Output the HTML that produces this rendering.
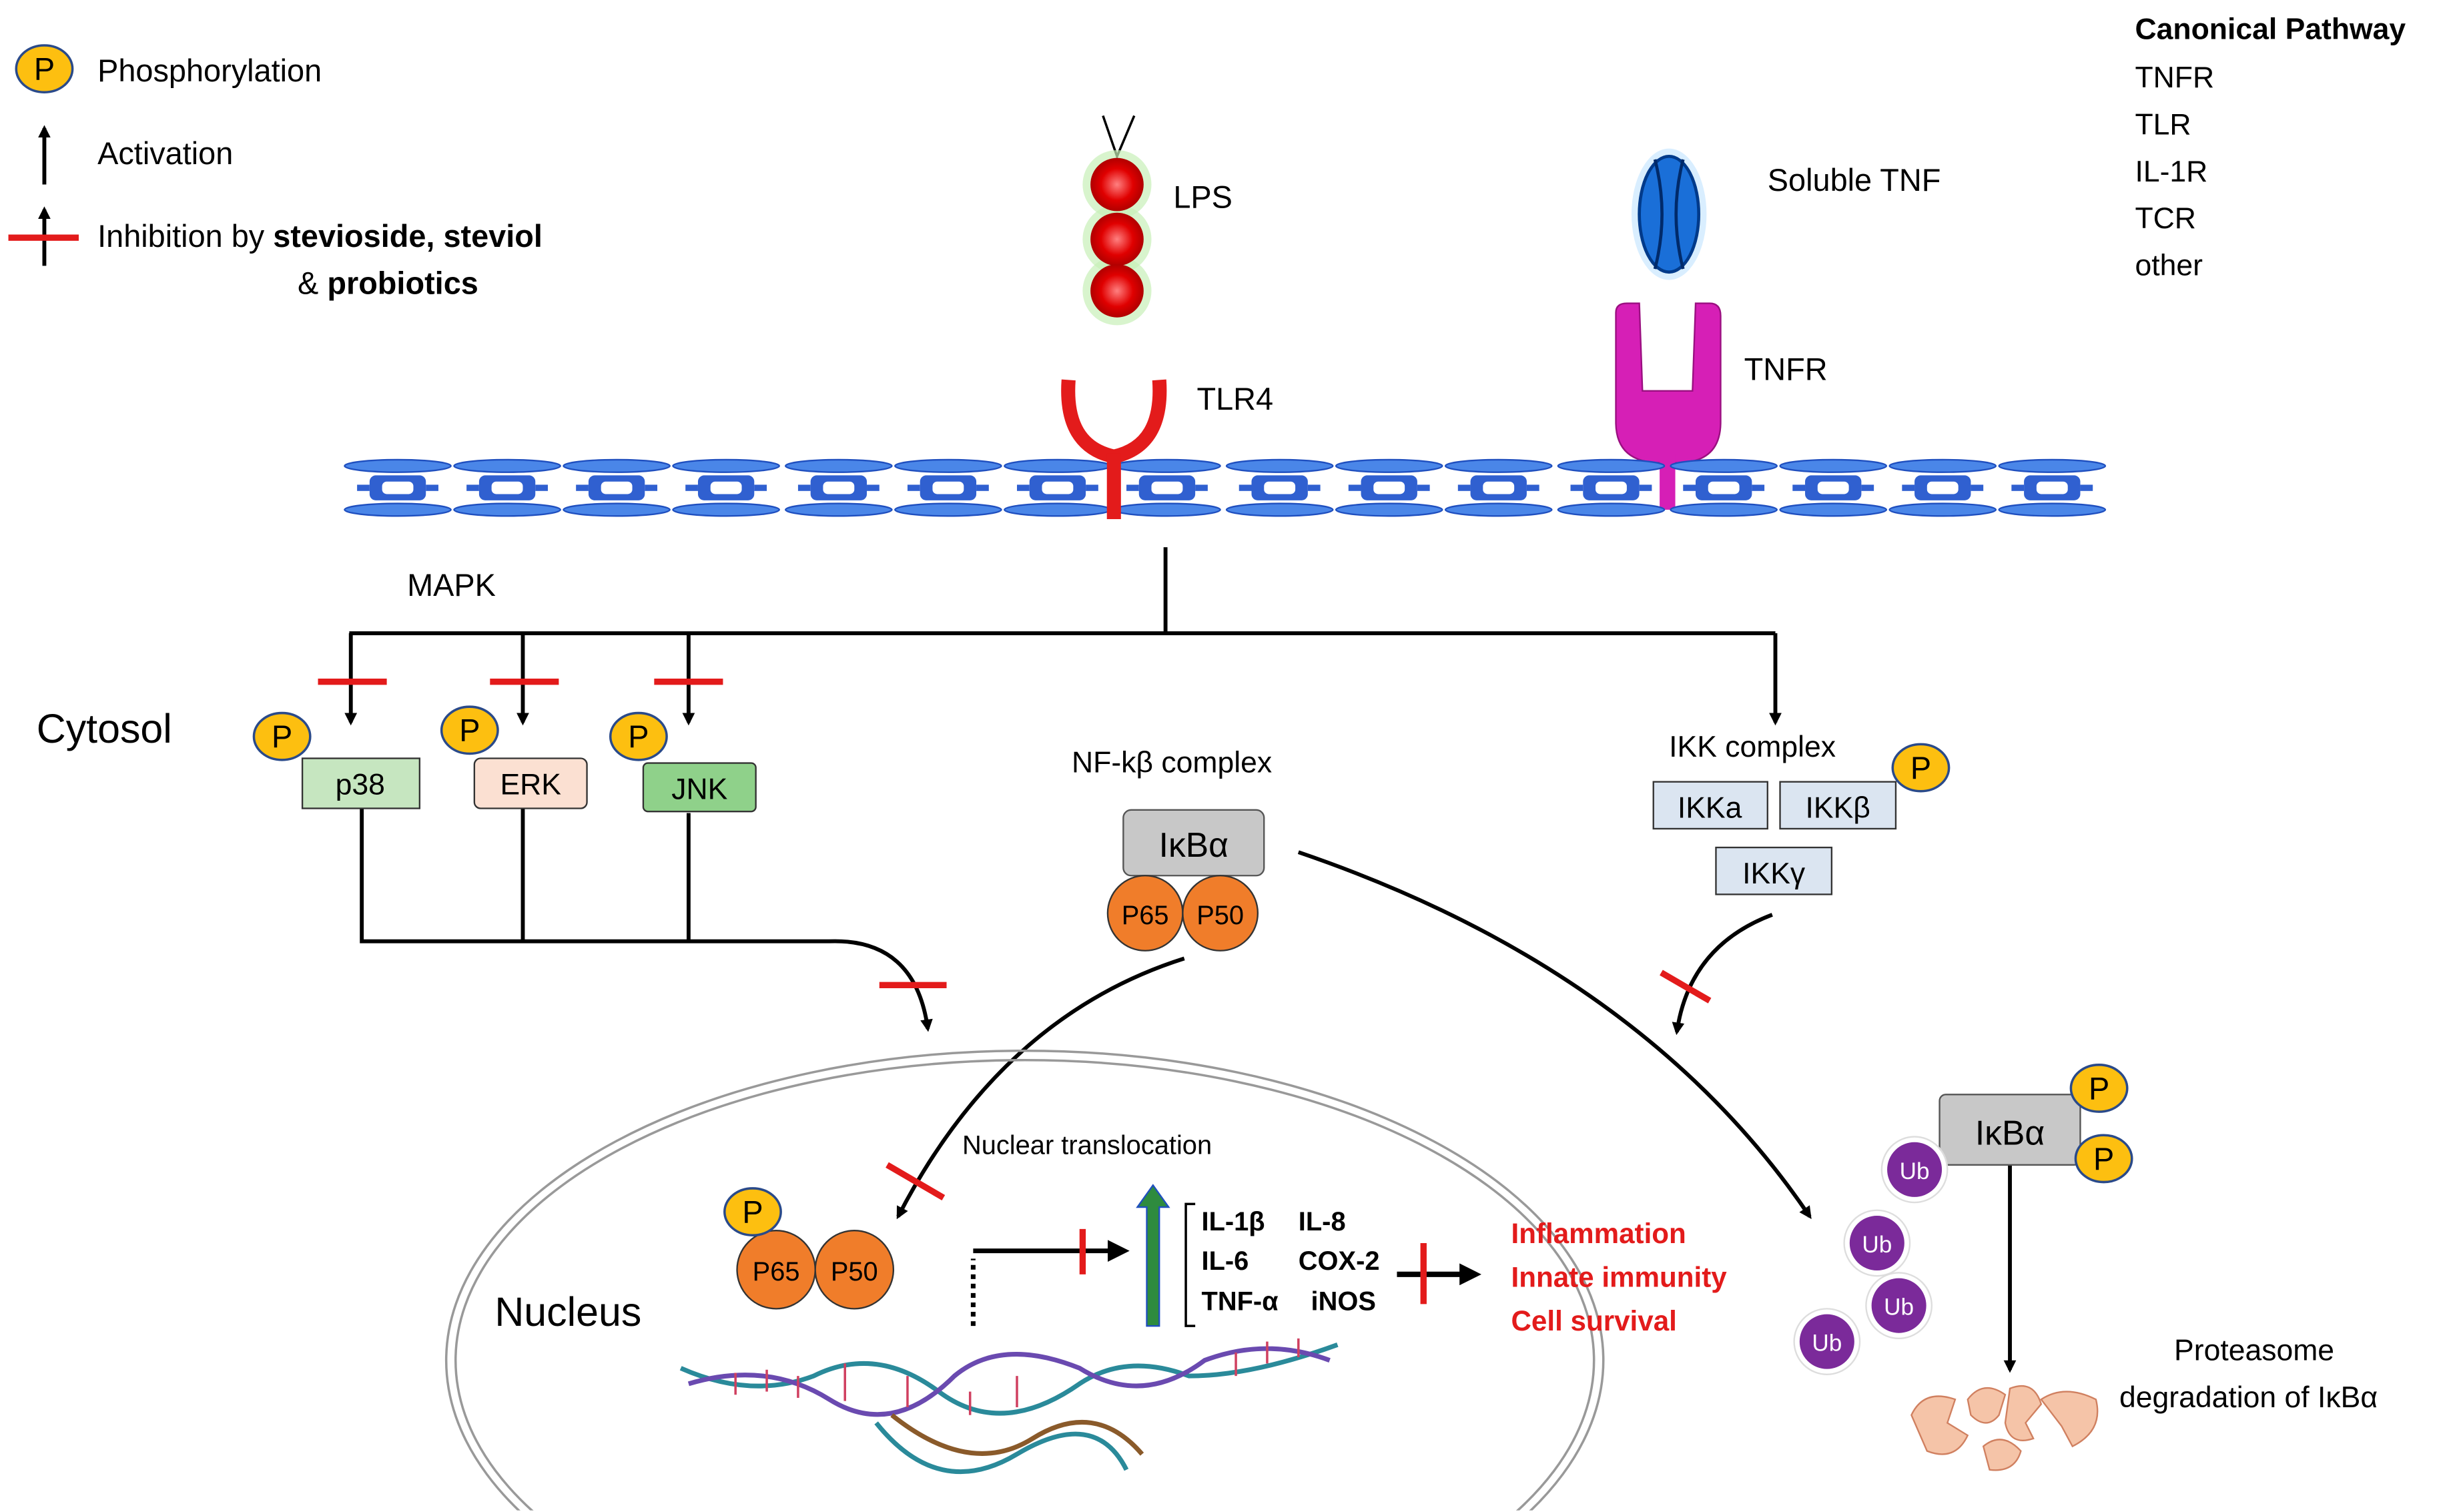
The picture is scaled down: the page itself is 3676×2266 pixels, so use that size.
<!DOCTYPE html>
<html><head><meta charset="utf-8"><style>html,body{margin:0;padding:0;background:#fff;width:3676px;height:2266px;overflow:hidden}svg{display:block;overflow:hidden}text{font-family:"Liberation Sans",sans-serif}</style></head><body>
<svg width="3676" height="2266" viewBox="0 0 1568 967" xmlns="http://www.w3.org/2000/svg">
<defs>
<clipPath id="frame"><rect x="0" y="0" width="1568" height="966"/></clipPath>
<marker id="ah" markerWidth="8" markerHeight="8" refX="6" refY="4" orient="auto" markerUnits="userSpaceOnUse"><path d="M0,0 L8,4 L0,8 z" fill="#000"/></marker>
<marker id="ah2" markerWidth="14" markerHeight="14" refX="10" refY="7" orient="auto" markerUnits="userSpaceOnUse"><path d="M0,0 L14,7 L0,14 z" fill="#000"/></marker>
<radialGradient id="rb"><stop offset="0" stop-color="#ff8080"/><stop offset="0.6" stop-color="#e00000"/><stop offset="1" stop-color="#b00000"/></radialGradient>
<g id="P"><ellipse rx="18" ry="15" fill="#fdbf10" stroke="#2a4a8a" stroke-width="1.5"/><text y="7" text-anchor="middle" font-size="20">P</text></g>
<g id="mem"><ellipse cx="0" cy="0" rx="34" ry="4" fill="#4a86e8" stroke="#1f4fbf"/><ellipse cx="0" cy="28" rx="34" ry="4" fill="#4a86e8" stroke="#1f4fbf"/><rect x="-18" y="6" width="36" height="16" rx="4" fill="#3060d0"/><rect x="-10" y="10" width="20" height="8" rx="3" fill="#fff"/><rect x="-26" y="12" width="8" height="4" fill="#3060d0"/><rect x="18" y="12" width="8" height="4" fill="#3060d0"/></g>
<g id="Ub"><circle r="19" fill="#7b2a9a" stroke="#fff" stroke-width="3"/><circle r="21" fill="none" stroke="#ddd" stroke-width="1"/><text y="6" text-anchor="middle" font-size="15" fill="#fff">Ub</text></g>
</defs>
<use href="#P" x="28" y="44"/>
<text x="62" y="52" font-size="20">Phosphorylation</text>
<line x1="28" y1="118" x2="28" y2="82" stroke="#000" stroke-width="2.5" marker-end="url(#ah)"/>
<text x="62" y="105" font-size="20">Activation</text>
<line x1="28" y1="170" x2="28" y2="134" stroke="#000" stroke-width="2.5" marker-end="url(#ah)"/>
<line x1="5" y1="152" x2="50" y2="152" stroke="#e31b1b" stroke-width="4"/>
<text x="62" y="158" font-size="20">Inhibition by <tspan font-weight="bold">stevioside, steviol</tspan></text>
<text x="190" y="188" font-size="20">&amp; <tspan font-weight="bold">probiotics</tspan></text>
<text x="1365" y="25" font-size="19" font-weight="bold">Canonical Pathway</text>
<text x="1365" y="56" font-size="19">TNFR</text>
<text x="1365" y="86" font-size="19">TLR</text>
<text x="1365" y="116" font-size="19">IL-1R</text>
<text x="1365" y="146" font-size="19">TCR</text>
<text x="1365" y="176" font-size="19">other</text>
<path d="M705,74 L714,100 L725,74" stroke="#000" stroke-width="1.5" fill="none"/>
<g><circle cx="714" cy="118" r="22" fill="#c8f0b8" opacity=".7"/><circle cx="714" cy="153" r="22" fill="#c8f0b8" opacity=".7"/><circle cx="714" cy="186" r="22" fill="#c8f0b8" opacity=".7"/>
<circle cx="714" cy="118" r="17" fill="url(#rb)"/><circle cx="714" cy="153" r="17" fill="url(#rb)"/><circle cx="714" cy="186" r="17" fill="url(#rb)"/></g>
<text x="750" y="133" font-size="20">LPS</text>
<ellipse cx="1067" cy="137" rx="24" ry="42" fill="#bfe3ff" opacity=".6"/>
<ellipse cx="1067" cy="137" rx="19" ry="37" fill="#1a6fd8" stroke="#003a8a" stroke-width="2"/>
<path d="M1058,102 Q1067,137 1058,172 M1076,102 Q1067,137 1076,172" stroke="#002a6a" stroke-width="2" fill="none"/>
<text x="1130" y="122" font-size="20">Soluble TNF</text>
<path d="M1033,200 Q1033,194 1040,194 L1048,194 L1050,250 L1082,250 L1084,194 L1093,194 Q1100,194 1100,202 L1100,270 Q1100,296 1072,296 L1062,296 Q1033,296 1033,270 Z" fill="#d61fb6" stroke="#9a0f80"/>
<rect x="1061" y="290" width="10" height="36" fill="#d61fb6"/>
<text x="1115" y="243" font-size="20">TNFR</text>
<g>
<use href="#mem" x="254" y="298"/><use href="#mem" x="324" y="298"/><use href="#mem" x="394" y="298"/><use href="#mem" x="464" y="298"/><use href="#mem" x="536" y="298"/><use href="#mem" x="606" y="298"/><use href="#mem" x="676" y="298"/><use href="#mem" x="746" y="298"/><use href="#mem" x="818" y="298"/><use href="#mem" x="888" y="298"/><use href="#mem" x="958" y="298"/><use href="#mem" x="1030" y="298"/><use href="#mem" x="1102" y="298"/><use href="#mem" x="1172" y="298"/><use href="#mem" x="1242" y="298"/><use href="#mem" x="1312" y="298"/>
</g>
<path d="M683,243 Q680,285 712,292 Q744,285 741,243" stroke="#e31b1b" stroke-width="9" fill="none"/>
<line x1="712" y1="290" x2="712" y2="332" stroke="#e31b1b" stroke-width="9"/>
<text x="765" y="262" font-size="20">TLR4</text>
<text x="260" y="381" font-size="20">MAPK</text>
<g stroke="#000" stroke-width="2.5" fill="none">
<line x1="745" y1="350" x2="745" y2="405"/>
<line x1="223" y1="405" x2="1135" y2="405"/>
<line x1="224" y1="405" x2="224" y2="462" marker-end="url(#ah)"/>
<line x1="334" y1="405" x2="334" y2="462" marker-end="url(#ah)"/>
<line x1="440" y1="405" x2="440" y2="462" marker-end="url(#ah)"/>
<line x1="1135" y1="405" x2="1135" y2="462" marker-end="url(#ah)"/>
<path d="M231,517 L231,602 L530,602 Q585,600 593,658" marker-end="url(#ah)"/>
<line x1="334" y1="517" x2="334" y2="602"/>
<line x1="440" y1="520" x2="440" y2="602"/>
<path d="M757,613 Q640,650 574,778" marker-end="url(#ah)"/>
<path d="M830,545 Q1050,620 1157,778" marker-end="url(#ah)"/>
<path d="M1133,585 Q1080,605 1072,660" marker-end="url(#ah)"/>
<line x1="1285" y1="745" x2="1285" y2="876" marker-end="url(#ah)"/>
</g>
<g stroke="#e31b1b" stroke-width="4">
<line x1="203" y1="436" x2="247" y2="436"/><line x1="313" y1="436" x2="357" y2="436"/><line x1="418" y1="436" x2="462" y2="436"/>
<line x1="562" y1="630" x2="605" y2="630"/>
<line x1="567" y1="745" x2="603" y2="766"/>
<line x1="1062" y1="622" x2="1093" y2="640"/>
</g>
<text x="23" y="475" font-size="26">Cytosol</text>
<rect x="193" y="485" width="75" height="32" fill="#c6e6c0" stroke="#333"/><text x="230" y="508" font-size="19" text-anchor="middle">p38</text>
<rect x="303" y="485" width="72" height="32" rx="4" fill="#fbe0d2" stroke="#333"/><text x="339" y="508" font-size="19" text-anchor="middle">ERK</text>
<rect x="411" y="488" width="72" height="31" rx="3" fill="#8fd18a" stroke="#333"/><text x="447" y="511" font-size="19" text-anchor="middle">JNK</text>
<use href="#P" x="180" y="471"/><use href="#P" x="300" y="467"/><use href="#P" x="408" y="471"/>
<text x="685" y="494" font-size="19">NF-kβ complex</text>
<rect x="718" y="518" width="90" height="42" rx="5" fill="#c8c8c8" stroke="#555"/><text x="763" y="548" font-size="22" text-anchor="middle">IκBα</text>
<circle cx="732" cy="584" r="24" fill="#f07d2a" stroke="#333"/><text x="732" y="591" font-size="17" text-anchor="middle">P65</text>
<circle cx="780" cy="584" r="24" fill="#f07d2a" stroke="#333"/><text x="780" y="591" font-size="17" text-anchor="middle">P50</text>
<text x="1067" y="484" font-size="19">IKK complex</text>
<rect x="1057" y="500" width="73" height="30" fill="#dbe5f1" stroke="#333"/><text x="1093" y="523" font-size="19" text-anchor="middle">IKKa</text>
<rect x="1138" y="500" width="74" height="30" fill="#dbe5f1" stroke="#333"/><text x="1175" y="523" font-size="19" text-anchor="middle">IKKβ</text>
<rect x="1097" y="542" width="74" height="30" fill="#dbe5f1" stroke="#333"/><text x="1134" y="565" font-size="19" text-anchor="middle">IKKγ</text>
<use href="#P" x="1228" y="491"/>
<g clip-path="url(#frame)">
<ellipse cx="655" cy="870" rx="370" ry="198" fill="none" stroke="#999" stroke-width="1.5"/>
<ellipse cx="655" cy="870" rx="364" ry="192" fill="none" stroke="#999" stroke-width="1.5"/>
</g>
<text x="615" y="738" font-size="17">Nuclear translocation</text>
<text x="316" y="848" font-size="26">Nucleus</text>
<circle cx="496" cy="812" r="25" fill="#f07d2a" stroke="#333"/><text x="496" y="819" font-size="17" text-anchor="middle">P65</text>
<circle cx="546" cy="812" r="25" fill="#f07d2a" stroke="#333"/><text x="546" y="819" font-size="17" text-anchor="middle">P50</text>
<use href="#P" x="481" y="775"/>
<line x1="622" y1="848" x2="622" y2="805" stroke="#000" stroke-width="3" stroke-dasharray="3,3"/>
<path d="M622,800 L718,800" stroke="#000" stroke-width="3" fill="none" marker-end="url(#ah2)"/>
<line x1="692" y1="786" x2="692" y2="815" stroke="#e31b1b" stroke-width="4"/>
<path d="M733,848 L733,772 L727,772 L737,758 L747,772 L741,772 L741,848 Z" fill="#2e8b3e" stroke="#1f4fbf"/>
<path d="M764,770 L758,770 L758,848 L764,848" stroke="#000" stroke-width="1.5" fill="none"/>
<g font-size="17" font-weight="bold">
<text x="768" y="787">IL-1β</text><text x="830" y="787">IL-8</text>
<text x="768" y="812">IL-6</text><text x="830" y="812">COX-2</text>
<text x="768" y="838">TNF-α</text><text x="838" y="838">iNOS</text>
</g>
<line x1="893" y1="815" x2="943" y2="815" stroke="#000" stroke-width="3.5" marker-end="url(#ah2)"/>
<line x1="910" y1="795" x2="910" y2="834" stroke="#e31b1b" stroke-width="4"/>
<g font-size="18" font-weight="bold" fill="#e31b1b">
<text x="966" y="795">Inflammation</text><text x="966" y="823">Innate immunity</text><text x="966" y="851">Cell survival</text>
</g>
<g fill="none" stroke-width="3">
<path d="M435,875 Q480,895 520,880 Q560,860 600,890 Q640,920 690,885 Q720,865 760,880 Q800,880 855,860" stroke="#2a8a9a"/>
<path d="M440,885 Q490,870 530,895 Q570,920 610,880 Q640,855 690,875 Q730,900 770,870 Q810,855 850,870" stroke="#6a4ab0"/>
<path d="M560,910 Q600,960 650,930 Q700,900 720,940" stroke="#2a8a9a"/>
<path d="M570,905 Q620,945 660,920 Q700,895 730,930" stroke="#8a5a2a"/>
</g>
<g stroke="#d04060" stroke-width="1.5">
<line x1="470" y1="878" x2="470" y2="892"/><line x1="490" y1="876" x2="490" y2="890"/><line x1="510" y1="880" x2="510" y2="894"/><line x1="540" y1="872" x2="540" y2="896"/><line x1="580" y1="880" x2="580" y2="900"/><line x1="620" y1="890" x2="620" y2="905"/><line x1="650" y1="880" x2="650" y2="900"/><line x1="790" y1="865" x2="790" y2="880"/><line x1="810" y1="858" x2="810" y2="872"/><line x1="830" y1="856" x2="830" y2="868"/>
</g>
<rect x="1240" y="700" width="90" height="45" rx="4" fill="#c8c8c8" stroke="#555"/><text x="1285" y="732" font-size="22" text-anchor="middle">IκBα</text>
<use href="#P" x="1342" y="696"/><use href="#P" x="1345" y="741"/>
<use href="#Ub" x="1224" y="748"/><use href="#Ub" x="1200" y="795"/><use href="#Ub" x="1214" y="835"/><use href="#Ub" x="1168" y="858"/>
<text x="1390" y="870" font-size="19">Proteasome</text>
<text x="1355" y="900" font-size="19">degradation of  IκBα</text>
<g fill="#f5c4a8" stroke="#d08060">
<path d="M1222,905 Q1230,888 1250,895 L1245,910 L1258,918 Q1250,935 1232,928 Z"/>
<path d="M1258,895 Q1268,882 1282,892 L1278,905 Q1270,915 1260,905 Z"/>
<path d="M1285,888 Q1300,882 1305,898 L1295,910 L1300,920 Q1285,925 1282,910 Z"/>
<path d="M1305,895 Q1320,885 1340,895 Q1345,915 1325,925 L1318,912 Z"/>
<path d="M1268,925 Q1280,915 1292,928 Q1288,942 1272,940 Z"/>
</g>
</svg>
</body></html>
